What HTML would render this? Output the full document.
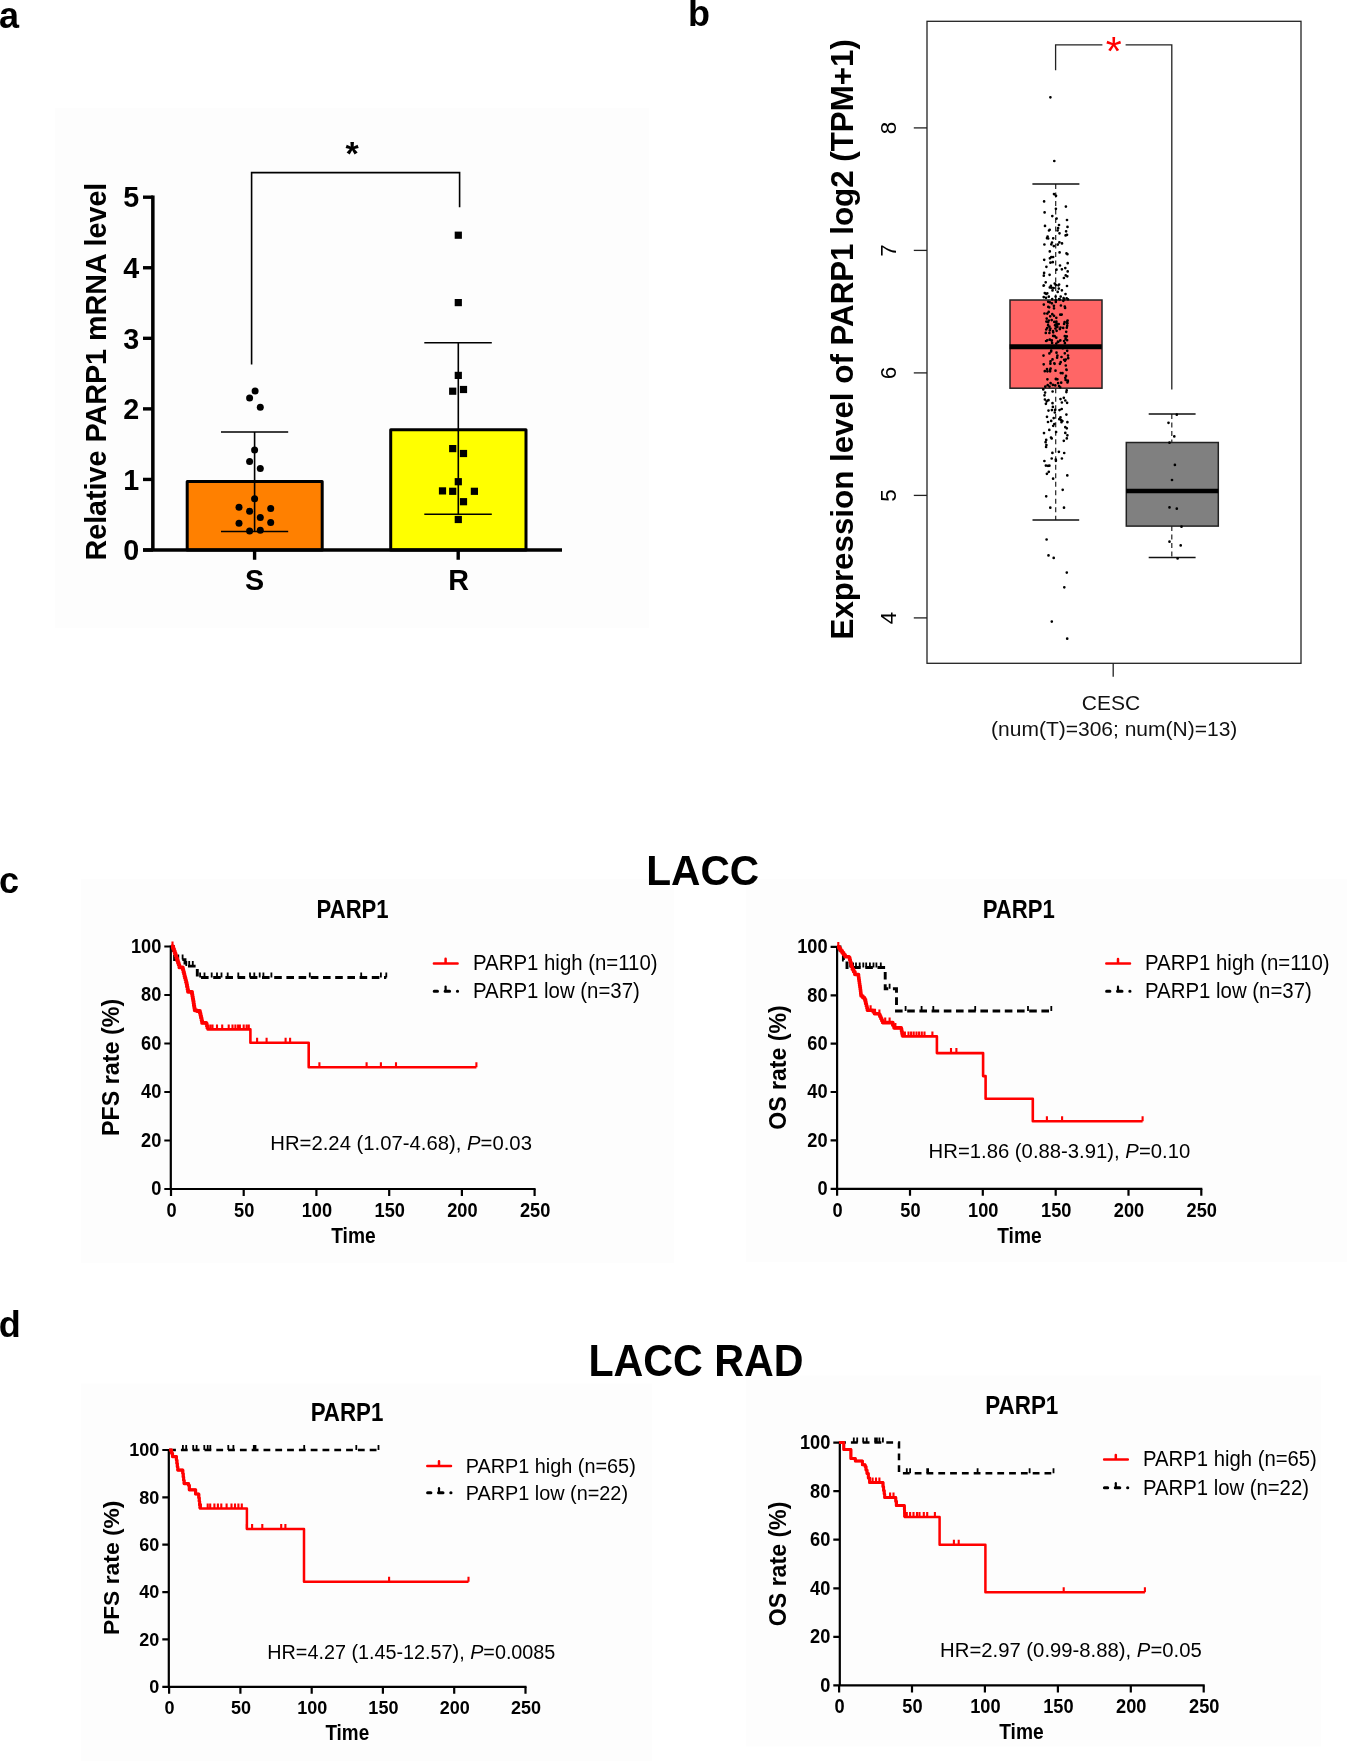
<!DOCTYPE html>
<html><head><meta charset="utf-8"><style>
html,body{margin:0;padding:0;background:#fff;}
body{width:1347px;height:1761px;overflow:hidden;}
svg{display:block;font-family:"Liberation Sans", sans-serif;will-change:transform;}
</style></head><body>
<svg width="1347" height="1761" viewBox="0 0 1347 1761">
<text x="-1" y="27.5" font-size="36" font-weight="bold" text-anchor="start" fill="#000">a</text>
<text x="688" y="26" font-size="36" font-weight="bold" text-anchor="start" fill="#000">b</text>
<text x="-1" y="892.5" font-size="36" font-weight="bold" text-anchor="start" fill="#000">c</text>
<text x="-1.2" y="1336.5" font-size="36" font-weight="bold" text-anchor="start" fill="#000">d</text>
<rect x="55" y="108" width="594" height="520" fill="#fdfdfd"/>
<rect x="187.2" y="481.6" width="135" height="68.4" fill="#FF8000" stroke="#000" stroke-width="3" stroke-linejoin="round"/>
<rect x="390.7" y="429.7" width="135.3" height="120.3" fill="#FFFF00" stroke="#000" stroke-width="3" stroke-linejoin="round"/>
<path d="M152.85 195.4V550M143 550H562" stroke="#000" stroke-width="3.5" fill="none"/>
<path d="M143 550.00H153" stroke="#000" stroke-width="3.4"/>
<text x="139.3" y="560.2" font-size="28.7" font-weight="bold" text-anchor="end" fill="#000">0</text>
<path d="M143 479.44H153" stroke="#000" stroke-width="3.4"/>
<text x="139.3" y="489.6" font-size="28.7" font-weight="bold" text-anchor="end" fill="#000">1</text>
<path d="M143 408.88H153" stroke="#000" stroke-width="3.4"/>
<text x="139.3" y="419.1" font-size="28.7" font-weight="bold" text-anchor="end" fill="#000">2</text>
<path d="M143 338.32H153" stroke="#000" stroke-width="3.4"/>
<text x="139.3" y="348.5" font-size="28.7" font-weight="bold" text-anchor="end" fill="#000">3</text>
<path d="M143 267.76H153" stroke="#000" stroke-width="3.4"/>
<text x="139.3" y="278.0" font-size="28.7" font-weight="bold" text-anchor="end" fill="#000">4</text>
<path d="M143 197.20H153" stroke="#000" stroke-width="3.4"/>
<text x="139.3" y="207.4" font-size="28.7" font-weight="bold" text-anchor="end" fill="#000">5</text>
<path d="M254.6 550V559.8M458.2 550V559.8" stroke="#000" stroke-width="3.4"/>
<text x="254.6" y="590" font-size="28.7" font-weight="bold" text-anchor="middle" fill="#000">S</text>
<text x="458.6" y="590" font-size="28.7" font-weight="bold" text-anchor="middle" fill="#000">R</text>
<text x="106.4" y="371.6" font-size="28.7" font-weight="bold" text-anchor="middle" fill="#000" transform="rotate(-90 106.4 371.6)">Relative PARP1 mRNA level</text>
<path d="M254.6 432V531.5M221 432H288.2M221 531.5H288.2" stroke="#000" stroke-width="1.6" fill="none"/>
<path d="M458.3 342.8V514.3M424.3 342.8H491.8M424.3 514.3H491.8" stroke="#000" stroke-width="1.6" fill="none"/>
<path d="M251.6 364.5V172.6H459.6V207.3" stroke="#000" stroke-width="1.6" fill="none"/>
<text x="352.2" y="164.5" font-size="34" font-weight="bold" text-anchor="middle" fill="#000">*</text>
<circle cx="255.1" cy="390.9" r="3.5" fill="#000"/>
<circle cx="249.6" cy="398" r="3.5" fill="#000"/>
<circle cx="260.3" cy="407.2" r="3.5" fill="#000"/>
<circle cx="254.6" cy="450.1" r="3.5" fill="#000"/>
<circle cx="249.6" cy="461.4" r="3.5" fill="#000"/>
<circle cx="260.3" cy="468.4" r="3.5" fill="#000"/>
<circle cx="254.6" cy="498.8" r="3.5" fill="#000"/>
<circle cx="239" cy="507.3" r="3.5" fill="#000"/>
<circle cx="270.7" cy="508.5" r="3.5" fill="#000"/>
<circle cx="249.6" cy="511.2" r="3.5" fill="#000"/>
<circle cx="260.3" cy="517.4" r="3.5" fill="#000"/>
<circle cx="239" cy="523.3" r="3.5" fill="#000"/>
<circle cx="270.7" cy="522.6" r="3.5" fill="#000"/>
<circle cx="249.6" cy="531" r="3.5" fill="#000"/>
<circle cx="260.3" cy="530.3" r="3.5" fill="#000"/>
<rect x="454.7" y="231.6" width="7.2" height="7.2" fill="#000"/>
<rect x="454.7" y="299.0" width="7.2" height="7.2" fill="#000"/>
<rect x="454.7" y="371.8" width="7.2" height="7.2" fill="#000"/>
<rect x="449.1" y="387.6" width="7.2" height="7.2" fill="#000"/>
<rect x="459.9" y="385.9" width="7.2" height="7.2" fill="#000"/>
<rect x="449.1" y="445.0" width="7.2" height="7.2" fill="#000"/>
<rect x="459.9" y="449.9" width="7.2" height="7.2" fill="#000"/>
<rect x="454.7" y="478.1" width="7.2" height="7.2" fill="#000"/>
<rect x="438.9" y="487.3" width="7.2" height="7.2" fill="#000"/>
<rect x="449.1" y="487.7" width="7.2" height="7.2" fill="#000"/>
<rect x="470.8" y="487.7" width="7.2" height="7.2" fill="#000"/>
<rect x="459.9" y="498.1" width="7.2" height="7.2" fill="#000"/>
<rect x="454.7" y="515.9" width="7.2" height="7.2" fill="#000"/>
<rect x="927" y="21.3" width="374" height="642" fill="none" stroke="#222" stroke-width="1.3"/>
<path d="M913.8 617.9H927" stroke="#222" stroke-width="1.3"/>
<text x="896.4" y="617.9" font-size="22.5" font-weight="normal" text-anchor="middle" fill="#000" transform="rotate(-90 896.4 617.9)">4</text>
<path d="M913.8 495.4H927" stroke="#222" stroke-width="1.3"/>
<text x="896.4" y="495.4" font-size="22.5" font-weight="normal" text-anchor="middle" fill="#000" transform="rotate(-90 896.4 495.4)">5</text>
<path d="M913.8 372.9H927" stroke="#222" stroke-width="1.3"/>
<text x="896.4" y="372.9" font-size="22.5" font-weight="normal" text-anchor="middle" fill="#000" transform="rotate(-90 896.4 372.9)">6</text>
<path d="M913.8 250.4H927" stroke="#222" stroke-width="1.3"/>
<text x="896.4" y="250.4" font-size="22.5" font-weight="normal" text-anchor="middle" fill="#000" transform="rotate(-90 896.4 250.4)">7</text>
<path d="M913.8 127.9H927" stroke="#222" stroke-width="1.3"/>
<text x="896.4" y="127.9" font-size="22.5" font-weight="normal" text-anchor="middle" fill="#000" transform="rotate(-90 896.4 127.9)">8</text>
<path d="M1113.2 663V676.7" stroke="#222" stroke-width="1.3"/>
<text x="1111" y="710.3" font-size="21" font-weight="normal" text-anchor="middle" fill="#111">CESC</text>
<text x="1114.2" y="736" font-size="21" font-weight="normal" text-anchor="middle" fill="#111">(num(T)=306; num(N)=13)</text>
<text x="853.4" y="339.3" font-size="31.3" font-weight="bold" text-anchor="middle" fill="#000" transform="rotate(-90 853.4 339.3)">Expression level of PARP1 log2 (TPM+1)</text>
<path d="M1055.7 183.9V299.6M1055.7 388.2V519.9M1171.8 414V442.3M1171.8 526.1V557.6" stroke="#222" stroke-width="1.2" stroke-dasharray="5 3.5" fill="none"/>
<path d="M1032.4 183.9H1079.4M1032.5 519.9H1079.2M1148.7 414H1195.6M1148.7 557.6H1195.6" stroke="#111" stroke-width="1.5" fill="none"/>
<rect x="1010" y="300" width="92" height="88.2" fill="#FF6666" stroke="#222" stroke-width="1.5"/>
<rect x="1126.3" y="442.5" width="92" height="83.6" fill="#808080" stroke="#222" stroke-width="1.5"/>
<path d="M1009.6 346.8H1101.8" stroke="#000" stroke-width="5"/>
<path d="M1126.1 491H1218.3" stroke="#000" stroke-width="4.5"/>
<path d="M1055.6 70.3V44.9H1102.4M1125.6 44.9H1171.8V389.6" stroke="#222" stroke-width="1.3" fill="none"/>
<text x="1113.8" y="64.5" font-size="41" font-weight="normal" text-anchor="middle" fill="#FF0000">*</text>
<path d="M1051.3 244.3h0M1047.0 238.2h0M1059.5 233.3h0M1045.0 225.9h0M1056.6 218.6h0M1052.3 216.1h0M1044.6 212.4h0M1055.9 208.8h0M1044.1 201.4h0M1054.0 194.1h0M1063.9 278.0h0M1048.8 296.7h0M1053.1 257.0h0M1044.4 461.0h0M1046.1 447.0h0M1063.6 298.2h0M1052.5 403.2h0M1044.8 371.2h0M1053.9 305.8h0M1057.8 244.6h0M1060.7 362.2h0M1057.6 230.5h0M1050.4 262.7h0M1046.2 496.3h0M1055.4 328.5h0M1059.9 363.8h0M1051.0 437.6h0M1058.1 383.2h0M1066.8 438.4h0M1059.8 299.4h0M1068.0 355.5h0M1050.3 507.7h0M1054.7 336.2h0M1046.1 341.0h0M1049.4 326.5h0M1065.0 360.8h0M1065.3 400.5h0M1064.8 306.7h0M1065.3 377.8h0M1047.0 416.8h0M1055.3 325.2h0M1049.8 287.4h0M1057.4 379.3h0M1060.5 417.3h0M1044.5 395.3h0M1062.7 489.8h0M1053.2 425.8h0M1059.1 386.1h0M1047.3 293.3h0M1044.5 313.5h0M1052.3 314.2h0M1065.1 307.9h0M1051.9 303.3h0M1046.3 294.0h0M1055.3 385.4h0M1045.8 332.9h0M1047.2 340.3h0M1067.0 220.0h0M1043.9 285.5h0M1067.7 271.4h0M1052.4 452.9h0M1062.5 373.2h0M1048.8 320.5h0M1067.8 381.7h0M1061.7 409.0h0M1056.1 432.0h0M1050.2 316.3h0M1060.5 327.5h0M1067.1 402.8h0M1048.1 322.2h0M1058.8 288.6h0M1059.5 410.1h0M1045.3 386.7h0M1062.0 243.4h0M1047.7 385.2h0M1067.5 382.4h0M1053.2 238.3h0M1046.4 445.0h0M1065.8 365.5h0M1067.7 263.2h0M1052.0 242.6h0M1067.5 323.3h0M1056.4 322.7h0M1048.5 400.2h0M1057.9 341.7h0M1053.7 288.0h0M1054.7 283.6h0M1065.8 359.5h0M1056.5 269.7h0M1043.7 364.3h0M1063.2 327.9h0M1055.0 325.3h0M1056.2 379.0h0M1062.8 348.2h0M1050.1 371.3h0M1055.9 346.5h0M1054.3 321.9h0M1055.8 459.6h0M1056.5 352.7h0M1066.7 390.4h0M1049.7 229.8h0M1066.8 428.3h0M1054.3 424.0h0M1049.2 307.3h0M1065.6 379.9h0M1061.1 420.1h0M1067.4 254.2h0M1067.0 234.8h0M1064.0 507.7h0M1054.0 315.8h0M1051.2 350.6h0M1043.7 297.1h0M1051.5 340.5h0M1056.0 325.9h0M1067.5 226.9h0M1049.8 339.7h0M1046.4 321.6h0M1066.0 375.9h0M1066.2 331.8h0M1060.7 296.6h0M1053.8 246.1h0M1066.7 298.3h0M1064.6 322.2h0M1064.8 353.3h0M1066.4 369.7h0M1046.4 266.8h0M1047.2 328.0h0M1048.2 301.8h0M1050.4 363.7h0M1047.6 236.6h0M1043.6 285.7h0M1057.0 324.9h0M1045.9 465.6h0M1054.0 308.3h0M1055.9 300.2h0M1067.8 380.7h0M1059.1 284.5h0M1051.9 410.1h0M1061.7 314.6h0M1047.3 313.6h0M1060.0 265.5h0M1049.3 429.9h0M1054.3 363.3h0M1067.2 321.3h0M1067.3 475.4h0M1052.1 342.9h0M1055.8 379.1h0M1055.8 284.9h0M1053.2 332.3h0M1043.8 304.6h0M1056.4 321.6h0M1059.6 252.4h0M1051.4 287.7h0M1046.9 473.8h0M1064.1 341.0h0M1058.9 451.8h0M1056.3 317.8h0M1064.1 359.8h0M1065.5 294.1h0M1060.5 399.1h0M1052.2 299.2h0M1064.1 323.9h0M1060.2 387.3h0M1043.3 389.4h0M1056.6 330.8h0M1044.9 399.5h0M1049.8 330.3h0M1048.3 306.9h0M1052.8 262.2h0M1060.3 340.4h0M1045.1 392.6h0M1049.5 386.6h0M1043.5 355.6h0M1049.9 258.3h0M1050.5 361.4h0M1054.8 412.5h0M1048.2 238.5h0M1066.6 370.0h0M1067.4 435.3h0M1049.9 302.3h0M1057.7 291.9h0M1056.3 343.6h0M1055.9 379.2h0M1060.8 373.1h0M1043.8 275.7h0M1055.5 370.7h0M1051.8 340.4h0M1064.2 299.4h0M1046.2 329.5h0M1052.5 290.4h0M1068.2 358.2h0M1050.1 369.9h0M1045.7 282.3h0M1049.4 465.7h0M1056.0 195.8h0M1065.3 432.9h0M1059.0 225.0h0M1061.2 382.7h0M1061.5 357.0h0M1050.4 328.6h0M1066.4 414.6h0M1050.6 383.2h0M1067.6 320.6h0M1057.1 357.7h0M1047.4 371.3h0M1055.6 296.6h0M1065.9 206.6h0M1048.0 465.8h0M1051.7 320.1h0M1057.4 326.9h0M1061.9 402.5h0M1052.6 391.5h0M1044.8 293.1h0M1055.8 300.2h0M1064.8 336.2h0M1053.2 335.9h0M1067.0 286.0h0M1044.0 433.1h0M1065.6 338.9h0M1053.0 331.0h0M1063.8 440.8h0M1045.9 403.8h0M1056.3 337.7h0M1059.4 242.3h0M1054.6 363.8h0M1049.0 230.5h0M1059.3 419.2h0M1059.1 299.0h0M1046.0 297.8h0M1052.9 406.9h0M1058.2 341.9h0M1067.2 350.8h0M1065.3 268.1h0M1067.2 325.8h0M1050.9 285.9h0M1053.7 418.1h0M1059.9 329.1h0M1051.7 438.4h0M1060.3 314.7h0M1055.8 301.9h0M1067.4 422.2h0M1048.7 311.9h0M1050.6 368.6h0M1048.8 471.8h0M1059.8 329.0h0M1048.5 410.6h0M1046.7 401.3h0M1065.7 275.4h0M1061.5 422.2h0M1047.8 400.5h0M1061.9 458.5h0M1052.5 359.4h0M1047.4 379.3h0M1067.1 340.2h0M1067.3 276.3h0M1063.8 397.8h0M1044.4 244.5h0M1048.0 422.0h0M1065.6 235.4h0M1062.4 421.1h0M1044.1 272.9h0M1061.9 290.3h0M1051.7 458.5h0M1049.8 251.4h0M1051.1 351.4h0M1066.1 231.3h0M1066.8 327.7h0M1067.1 323.3h0M1052.9 384.9h0M1066.4 392.1h0M1063.3 300.8h0M1058.4 285.3h0M1051.2 420.9h0M1048.1 325.2h0M1049.4 353.4h0M1051.3 257.1h0M1065.3 427.2h0M1045.6 442.2h0M1060.9 305.5h0M1058.7 324.0h0M1061.9 269.3h0M1064.2 453.0h0M1057.4 355.7h0M1049.4 333.0h0M1047.0 369.1h0M1053.1 478.7h0M1055.9 460.8h0M1068.0 299.3h0M1055.1 409.9h0M1044.2 259.8h0M1046.2 439.9h0M1066.5 253.4h0M1064.9 343.2h0M1066.8 336.4h0M1058.1 228.2h0M1046.7 318.6h0M1049.6 274.8h0M1050.4 97.3h0M1054.3 161.0h0M1046.6 539.5h0M1048.5 555.4h0M1053.7 557.9h0M1066.8 572.6h0M1064.3 587.3h0M1051.8 621.6h0M1067.2 638.7h0M1176.8 414.7h0M1168.5 422.8h0M1174.3 436.4h0M1169.5 442.7h0M1174.9 464.9h0M1176.0 491.0h0M1169.5 507.4h0M1176.8 508.7h0M1181.5 526.7h0M1169.5 541.7h0M1180.7 545.4h0M1177.6 558.5h0M1172.0 480.0h0" stroke="#000" stroke-width="2.7" stroke-linecap="round" fill="none"/>
<rect x="81" y="879" width="593" height="384" fill="#fdfdfd"/>
<rect x="746" y="879" width="601" height="383" fill="#fdfdfd"/>
<rect x="81" y="1383.5" width="571" height="377.5" fill="#fdfdfd"/>
<rect x="746" y="1375.5" width="575" height="371" fill="#fdfdfd"/>
<text transform="translate(702.7 885.4) scale(1 1.065)" font-size="40.7" font-weight="bold" text-anchor="middle" fill="#000">LACC</text>
<text transform="translate(696 1376.3) scale(1 1.068)" font-size="41.2" font-weight="bold" text-anchor="middle" fill="#000">LACC RAD</text>
<text transform="translate(352.6 917.8) scale(0.975 1.12)" font-size="22.7" font-weight="bold" text-anchor="middle" fill="#000">PARP1</text>
<path d="M170.8 945.5V1189.0H535.6" stroke="#000" stroke-width="2.2" fill="none"/>
<text transform="translate(161.3 1195.3) scale(0.985 1.05)" font-size="18.5" font-weight="bold" text-anchor="end" fill="#000">0</text>
<text transform="translate(161.3 1146.8) scale(0.985 1.05)" font-size="18.5" font-weight="bold" text-anchor="end" fill="#000">20</text>
<text transform="translate(161.3 1098.3) scale(0.985 1.05)" font-size="18.5" font-weight="bold" text-anchor="end" fill="#000">40</text>
<text transform="translate(161.3 1049.8) scale(0.985 1.05)" font-size="18.5" font-weight="bold" text-anchor="end" fill="#000">60</text>
<text transform="translate(161.3 1001.3) scale(0.985 1.05)" font-size="18.5" font-weight="bold" text-anchor="end" fill="#000">80</text>
<text transform="translate(161.3 952.8) scale(0.985 1.05)" font-size="18.5" font-weight="bold" text-anchor="end" fill="#000">100</text>
<text transform="translate(171.5 1217) scale(0.985 1.05)" font-size="18.5" font-weight="bold" text-anchor="middle" fill="#000">0</text>
<text transform="translate(244.2 1217) scale(0.985 1.05)" font-size="18.5" font-weight="bold" text-anchor="middle" fill="#000">50</text>
<text transform="translate(316.9 1217) scale(0.985 1.05)" font-size="18.5" font-weight="bold" text-anchor="middle" fill="#000">100</text>
<text transform="translate(389.7 1217) scale(0.985 1.05)" font-size="18.5" font-weight="bold" text-anchor="middle" fill="#000">150</text>
<text transform="translate(462.4 1217) scale(0.985 1.05)" font-size="18.5" font-weight="bold" text-anchor="middle" fill="#000">200</text>
<text transform="translate(535.1 1217) scale(0.985 1.05)" font-size="18.5" font-weight="bold" text-anchor="middle" fill="#000">250</text>
<path d="M164.3 1189.0H170.8M164.3 1140.5H170.8M164.3 1092.0H170.8M164.3 1043.5H170.8M164.3 995.0H170.8M164.3 946.5H170.8M171.0 1189.0V1196.0M243.7 1189.0V1196.0M316.4 1189.0V1196.0M389.2 1189.0V1196.0M461.9 1189.0V1196.0M534.6 1189.0V1196.0" stroke="#000" stroke-width="2.2" fill="none"/>
<text transform="translate(353.4 1242.9) scale(1 1.13)" font-size="19.2" font-weight="bold" text-anchor="middle" fill="#000">Time</text>
<text x="119.2" y="1067.4" font-size="23.3" font-weight="bold" text-anchor="middle" fill="#000" transform="rotate(-90 119.2 1067.4)">PFS rate (%)</text>
<text transform="translate(270.3 1149.5) scale(1 1.035)" font-size="20.3" fill="#000">HR=2.24 (1.07-4.68), <tspan font-style="italic">P</tspan>=0.03</text>
<path d="M433.9 963.4H457.6M445.6 963.4v-4.6" stroke="#FF0000" stroke-width="2.5" stroke-linecap="round" fill="none"/>
<path d="M434.2 991.2H437.5M445.1 991.2H449.6M457.4 991.2H457.6" stroke="#000" stroke-width="3" stroke-linecap="round" fill="none"/>
<path d="M445.6 991.2v-4.6" stroke="#000" stroke-width="2.2" stroke-linecap="round" fill="none"/>
<text transform="translate(473.0 970.0) scale(1 1.05)" font-size="20.4" font-weight="normal" text-anchor="start" fill="#000">PARP1 high (n=110)</text>
<text transform="translate(473.0 998.2) scale(1 1.05)" font-size="20.4" font-weight="normal" text-anchor="start" fill="#000">PARP1 low (n=37)</text>
<path d="M171.0 946.5L173.2 946.5L173.2 953.0L174.6 953.0L174.6 959.6L185.0 959.6L185.0 966.1L197.3 966.1L197.3 977.5L386.3 977.5" stroke="#000" stroke-width="2.9" stroke-dasharray="7.6 4.6" fill="none"/>
<path d="M178.3 959.6v-5M182.6 959.6v-5M186.3 966.1v-5M189.2 966.1v-5M192.8 966.1v-5M200.1 977.5v-5M204.5 977.5v-5M211.7 977.5v-5M217.0 977.5v-5M221.5 977.5v-5M227.7 977.5v-5M238.3 977.5v-5M250.0 977.5v-5M254.3 977.5v-5M259.7 977.5v-5M263.4 977.5v-5M271.4 977.5v-5M309.8 977.5v-5M361.2 977.5v-5M380.9 977.5v-5M386.3 977.5v-5" stroke="#000" stroke-width="1.8" fill="none"/>
<path d="M171.0 946.5L172.5 946.5L173.2 946.5L173.2 948.8L174.0 948.8L174.0 951.1L174.8 951.1L174.8 953.5L175.6 953.5L175.6 955.8L176.3 955.8L176.3 958.1L177.1 958.1L177.1 960.4L177.9 960.4L177.9 962.7L178.7 962.7L178.7 965.0L179.4 965.0L179.4 967.4L182.8 967.4L182.8 969.5L183.3 969.5L183.3 971.7L183.9 971.7L183.9 973.8L184.4 973.8L184.4 975.9L184.9 975.9L184.9 978.0L185.5 978.0L185.5 980.1L186.0 980.1L186.0 982.2L186.6 982.2L186.6 984.3L187.0 984.3L187.0 986.8L187.5 986.8L187.5 989.3L188.0 989.3L188.0 991.8L191.7 991.8L192.0 991.8L192.0 994.2L192.4 994.2L192.4 996.5L192.8 996.5L192.8 998.8L193.2 998.8L193.2 1001.1L193.6 1001.1L193.6 1003.4L193.9 1003.4L193.9 1005.7L194.3 1005.7L194.3 1008.0L194.7 1008.0L194.7 1010.3L196.9 1010.3L196.9 1011.0L199.9 1011.0L199.9 1013.2L200.5 1013.2L200.5 1015.6L201.0 1015.6L201.0 1018.0L201.6 1018.0L201.6 1020.5L202.1 1020.5L202.1 1022.9L206.2 1022.9L206.2 1023.6L206.7 1023.6L206.7 1025.6L207.2 1025.6L207.2 1027.5L207.7 1027.5L207.7 1029.4L250.4 1029.4L250.4 1042.8L308.7 1042.8L308.7 1067.3L476.4 1067.3" stroke="#FF0000" stroke-width="2.6" fill="none" stroke-linejoin="round"/>
<path d="M171.0 946.5L172.5 946.5L173.2 946.5L173.2 948.8L174.0 948.8L174.0 951.1L174.8 951.1L174.8 953.5L175.6 953.5L175.6 955.8L176.3 955.8L176.3 958.1L177.1 958.1L177.1 960.4L177.9 960.4L177.9 962.7L178.7 962.7L178.7 965.0L179.4 965.0L179.4 967.4L182.8 967.4L182.8 969.5L183.3 969.5L183.3 971.7L183.9 971.7L183.9 973.8L184.4 973.8L184.4 975.9L184.9 975.9L184.9 978.0L185.5 978.0L185.5 980.1L186.0 980.1L186.0 982.2L186.6 982.2L186.6 984.3L187.0 984.3L187.0 986.8L187.5 986.8L187.5 989.3L188.0 989.3L188.0 991.8L191.7 991.8L192.0 991.8L192.0 994.2L192.4 994.2L192.4 996.5L192.8 996.5L192.8 998.8L193.2 998.8L193.2 1001.1L193.6 1001.1L193.6 1003.4L193.9 1003.4L193.9 1005.7L194.3 1005.7L194.3 1008.0L194.7 1008.0L194.7 1010.3L196.9 1010.3L196.9 1011.0L199.9 1011.0L199.9 1013.2L200.5 1013.2L200.5 1015.6L201.0 1015.6L201.0 1018.0L201.6 1018.0L201.6 1020.5L202.1 1020.5L202.1 1022.9L206.2 1022.9L206.2 1023.6L206.7 1023.6L206.7 1025.6L207.2 1025.6L207.2 1027.5L207.7 1027.5L207.7 1029.4" stroke="#FF0000" stroke-width="3.8" fill="none" stroke-linejoin="round"/>
<path d="M172.5 946.5v-5M210.3 1029.4v-5M212.5 1029.4v-5M217.0 1029.4v-5M222.2 1029.4v-5M228.7 1029.4v-5M232.5 1029.4v-5M235.4 1029.4v-5M238.1 1029.4v-5M239.9 1029.4v-5M243.7 1029.4v-5M246.6 1029.4v-5M248.8 1029.4v-5M257.1 1042.8v-5M266.6 1042.8v-5M285.6 1042.8v-5M290.1 1042.8v-5M319.4 1067.3v-5M366.6 1067.3v-5M380.9 1067.3v-5M396.0 1067.3v-5M476.4 1067.3v-5" stroke="#FF0000" stroke-width="2.1" fill="none"/>
<text transform="translate(1018.8 917.8) scale(0.975 1.12)" font-size="22.7" font-weight="bold" text-anchor="middle" fill="#000">PARP1</text>
<path d="M837.1 945.9V1188.8H1202.3" stroke="#000" stroke-width="2.2" fill="none"/>
<text transform="translate(827.6 1195.1) scale(0.985 1.05)" font-size="18.5" font-weight="bold" text-anchor="end" fill="#000">0</text>
<text transform="translate(827.6 1146.7) scale(0.985 1.05)" font-size="18.5" font-weight="bold" text-anchor="end" fill="#000">20</text>
<text transform="translate(827.6 1098.3) scale(0.985 1.05)" font-size="18.5" font-weight="bold" text-anchor="end" fill="#000">40</text>
<text transform="translate(827.6 1050.0) scale(0.985 1.05)" font-size="18.5" font-weight="bold" text-anchor="end" fill="#000">60</text>
<text transform="translate(827.6 1001.6) scale(0.985 1.05)" font-size="18.5" font-weight="bold" text-anchor="end" fill="#000">80</text>
<text transform="translate(827.6 953.2) scale(0.985 1.05)" font-size="18.5" font-weight="bold" text-anchor="end" fill="#000">100</text>
<text transform="translate(837.6 1217) scale(0.985 1.05)" font-size="18.5" font-weight="bold" text-anchor="middle" fill="#000">0</text>
<text transform="translate(910.5 1217) scale(0.985 1.05)" font-size="18.5" font-weight="bold" text-anchor="middle" fill="#000">50</text>
<text transform="translate(983.3 1217) scale(0.985 1.05)" font-size="18.5" font-weight="bold" text-anchor="middle" fill="#000">100</text>
<text transform="translate(1056.2 1217) scale(0.985 1.05)" font-size="18.5" font-weight="bold" text-anchor="middle" fill="#000">150</text>
<text transform="translate(1129.0 1217) scale(0.985 1.05)" font-size="18.5" font-weight="bold" text-anchor="middle" fill="#000">200</text>
<text transform="translate(1201.8 1217) scale(0.985 1.05)" font-size="18.5" font-weight="bold" text-anchor="middle" fill="#000">250</text>
<path d="M830.6 1188.8H837.1M830.6 1140.4H837.1M830.6 1092.0H837.1M830.6 1043.7H837.1M830.6 995.3H837.1M830.6 946.9H837.1M837.1 1188.8V1195.8M910.0 1188.8V1195.8M982.8 1188.8V1195.8M1055.7 1188.8V1195.8M1128.5 1188.8V1195.8M1201.3 1188.8V1195.8" stroke="#000" stroke-width="2.2" fill="none"/>
<text transform="translate(1019.4 1242.9) scale(1 1.13)" font-size="19.2" font-weight="bold" text-anchor="middle" fill="#000">Time</text>
<text x="786" y="1067.5" font-size="23.1" font-weight="bold" text-anchor="middle" fill="#000" transform="rotate(-90 786 1067.5)">OS rate (%)</text>
<text transform="translate(928.6 1157.6000000000001) scale(1 1.035)" font-size="20.3" fill="#000">HR=1.86 (0.88-3.91), <tspan font-style="italic">P</tspan>=0.10</text>
<path d="M1106.3 963.5H1130.0M1118.0 963.5v-4.6" stroke="#FF0000" stroke-width="2.5" stroke-linecap="round" fill="none"/>
<path d="M1106.6 991.3H1109.9M1117.5 991.3H1122.0M1129.8 991.3H1130.0" stroke="#000" stroke-width="3" stroke-linecap="round" fill="none"/>
<path d="M1118.0 991.3v-4.6" stroke="#000" stroke-width="2.2" stroke-linecap="round" fill="none"/>
<text transform="translate(1145.0 970.1) scale(1 1.05)" font-size="20.4" font-weight="normal" text-anchor="start" fill="#000">PARP1 high (n=110)</text>
<text transform="translate(1145.0 998.3) scale(1 1.05)" font-size="20.4" font-weight="normal" text-anchor="start" fill="#000">PARP1 low (n=37)</text>
<path d="M837.1 946.9L840.0 946.9L840.0 953.4L843.4 953.4L843.4 960.0L847.0 960.0L847.0 967.5L885.2 967.5L885.2 988.7L896.5 988.7L896.5 1011.0L1051.3 1011.0" stroke="#000" stroke-width="2.9" stroke-dasharray="7.6 4.6" fill="none"/>
<path d="M850.2 967.5v-5M853.1 967.5v-5M856.0 967.5v-5M859.7 967.5v-5M863.3 967.5v-5M866.2 967.5v-5M869.9 967.5v-5M873.5 967.5v-5M876.4 967.5v-5M880.8 967.5v-5M889.6 988.7v-5M905.6 1011.0v-5M921.6 1011.0v-5M933.3 1011.0v-5M975.2 1011.0v-5M1028.0 1011.0v-5M1051.3 1011.0v-5" stroke="#000" stroke-width="1.8" fill="none"/>
<path d="M837.1 946.9L837.8 946.9L839.3 946.9L839.3 948.9L840.7 948.9L840.7 950.9L842.2 950.9L842.2 952.9L843.7 952.9L843.7 954.8L845.1 954.8L845.1 956.8L849.0 956.8L849.0 957.5L849.7 957.5L849.7 959.9L850.3 959.9L850.3 962.2L851.0 962.2L851.0 964.5L851.6 964.5L851.6 966.8L852.3 966.8L852.3 969.2L853.6 969.2L853.6 971.8L854.9 971.8L854.9 974.5L858.5 974.5L858.5 977.1L858.8 977.1L858.8 979.2L859.1 979.2L859.1 981.3L859.4 981.3L859.4 983.4L859.7 983.4L859.7 985.5L860.0 985.5L860.0 987.6L860.3 987.6L860.3 989.7L860.6 989.7L860.6 991.8L860.8 991.8L860.8 993.9L861.1 993.9L861.1 996.0L862.9 996.0L862.9 997.7L864.6 997.7L864.6 999.4L865.2 999.4L865.2 1001.6L865.7 1001.6L865.7 1003.7L866.3 1003.7L866.3 1005.9L866.9 1005.9L866.9 1008.1L867.4 1008.1L867.4 1010.3L871.8 1010.3L873.2 1010.3L873.2 1012.0L874.5 1012.0L874.5 1013.7L879.1 1013.7L879.1 1014.6L879.9 1014.6L879.9 1016.6L880.8 1016.6L880.8 1018.6L881.7 1018.6L881.7 1020.6L882.6 1020.6L882.6 1022.6L891.4 1022.6L892.8 1022.6L892.8 1025.3L894.1 1025.3L894.1 1027.9L901.2 1027.9L901.2 1028.9L901.6 1028.9L901.6 1031.4L902.1 1031.4L902.1 1033.9L902.5 1033.9L902.5 1036.4L936.9 1036.4L936.9 1053.1L983.1 1053.1L983.1 1076.1L985.6 1076.1L985.6 1098.8L1032.8 1098.8L1032.8 1121.3L1142.6 1121.3" stroke="#FF0000" stroke-width="2.6" fill="none" stroke-linejoin="round"/>
<path d="M837.1 946.9L837.8 946.9L839.3 946.9L839.3 948.9L840.7 948.9L840.7 950.9L842.2 950.9L842.2 952.9L843.7 952.9L843.7 954.8L845.1 954.8L845.1 956.8L849.0 956.8L849.0 957.5L849.7 957.5L849.7 959.9L850.3 959.9L850.3 962.2L851.0 962.2L851.0 964.5L851.6 964.5L851.6 966.8L852.3 966.8L852.3 969.2L853.6 969.2L853.6 971.8L854.9 971.8L854.9 974.5L858.5 974.5L858.5 977.1L858.8 977.1L858.8 979.2L859.1 979.2L859.1 981.3L859.4 981.3L859.4 983.4L859.7 983.4L859.7 985.5L860.0 985.5L860.0 987.6L860.3 987.6L860.3 989.7L860.6 989.7L860.6 991.8L860.8 991.8L860.8 993.9L861.1 993.9L861.1 996.0L862.9 996.0L862.9 997.7L864.6 997.7L864.6 999.4L865.2 999.4L865.2 1001.6L865.7 1001.6L865.7 1003.7L866.3 1003.7L866.3 1005.9L866.9 1005.9L866.9 1008.1L867.4 1008.1L867.4 1010.3L871.8 1010.3L873.2 1010.3L873.2 1012.0L874.5 1012.0L874.5 1013.7L879.1 1013.7L879.1 1014.6L879.9 1014.6L879.9 1016.6L880.8 1016.6L880.8 1018.6L881.7 1018.6L881.7 1020.6L882.6 1020.6L882.6 1022.6L891.4 1022.6L892.8 1022.6L892.8 1025.3L894.1 1025.3L894.1 1027.9L901.2 1027.9L901.2 1028.9L901.6 1028.9L901.6 1031.4L902.1 1031.4L902.1 1033.9L902.5 1033.9L902.5 1036.4" stroke="#FF0000" stroke-width="3.6" fill="none" stroke-linejoin="round"/>
<path d="M838.3 946.9v-5M866.2 1003.7v-5M870.6 1010.3v-5M875.0 1013.7v-5M879.4 1014.6v-5M885.2 1022.6v-5M889.6 1022.6v-5M895.4 1027.9v-5M904.9 1036.4v-5M908.5 1036.4v-5M911.1 1036.4v-5M913.7 1036.4v-5M916.5 1036.4v-5M919.1 1036.4v-5M921.8 1036.4v-5M924.5 1036.4v-5M932.4 1036.4v-5M951.0 1053.1v-5M956.4 1053.1v-5M1046.9 1121.3v-5M1062.1 1121.3v-5M1142.6 1121.3v-5" stroke="#FF0000" stroke-width="2.1" fill="none"/>
<text transform="translate(347 1421.3) scale(0.975 1.12)" font-size="22.9" font-weight="bold" text-anchor="middle" fill="#000">PARP1</text>
<path d="M168.8 1449.0V1686.8H526.5" stroke="#000" stroke-width="2.2" fill="none"/>
<text transform="translate(159.3 1693.1) scale(0.985 1.05)" font-size="18.3" font-weight="bold" text-anchor="end" fill="#000">0</text>
<text transform="translate(159.3 1645.7) scale(0.985 1.05)" font-size="18.3" font-weight="bold" text-anchor="end" fill="#000">20</text>
<text transform="translate(159.3 1598.4) scale(0.985 1.05)" font-size="18.3" font-weight="bold" text-anchor="end" fill="#000">40</text>
<text transform="translate(159.3 1551.0) scale(0.985 1.05)" font-size="18.3" font-weight="bold" text-anchor="end" fill="#000">60</text>
<text transform="translate(159.3 1503.7) scale(0.985 1.05)" font-size="18.3" font-weight="bold" text-anchor="end" fill="#000">80</text>
<text transform="translate(159.3 1456.3) scale(0.985 1.05)" font-size="18.3" font-weight="bold" text-anchor="end" fill="#000">100</text>
<text transform="translate(169.6 1714) scale(0.985 1.05)" font-size="18.3" font-weight="bold" text-anchor="middle" fill="#000">0</text>
<text transform="translate(240.9 1714) scale(0.985 1.05)" font-size="18.3" font-weight="bold" text-anchor="middle" fill="#000">50</text>
<text transform="translate(312.2 1714) scale(0.985 1.05)" font-size="18.3" font-weight="bold" text-anchor="middle" fill="#000">100</text>
<text transform="translate(383.4 1714) scale(0.985 1.05)" font-size="18.3" font-weight="bold" text-anchor="middle" fill="#000">150</text>
<text transform="translate(454.7 1714) scale(0.985 1.05)" font-size="18.3" font-weight="bold" text-anchor="middle" fill="#000">200</text>
<text transform="translate(526.0 1714) scale(0.985 1.05)" font-size="18.3" font-weight="bold" text-anchor="middle" fill="#000">250</text>
<path d="M162.3 1686.8H168.8M162.3 1639.4H168.8M162.3 1592.1H168.8M162.3 1544.7H168.8M162.3 1497.4H168.8M162.3 1450.0H168.8M169.1 1686.8V1693.8M240.4 1686.8V1693.8M311.7 1686.8V1693.8M382.9 1686.8V1693.8M454.2 1686.8V1693.8M525.5 1686.8V1693.8" stroke="#000" stroke-width="2.2" fill="none"/>
<text transform="translate(347.3 1739.7) scale(1 1.13)" font-size="18.9" font-weight="bold" text-anchor="middle" fill="#000">Time</text>
<text x="118.8" y="1567.8" font-size="22.85" font-weight="bold" text-anchor="middle" fill="#000" transform="rotate(-90 118.8 1567.8)">PFS rate (%)</text>
<text transform="translate(267.3 1659.0) scale(1 1.035)" font-size="19.8" fill="#000">HR=4.27 (1.45-12.57), <tspan font-style="italic">P</tspan>=0.0085</text>
<path d="M427.3 1465.9H451.0M439.0 1465.9v-4.6" stroke="#FF0000" stroke-width="2.5" stroke-linecap="round" fill="none"/>
<path d="M427.6 1492.8H430.9M438.5 1492.8H443.0M450.8 1492.8H451.0" stroke="#000" stroke-width="3" stroke-linecap="round" fill="none"/>
<path d="M439.0 1492.8v-4.6" stroke="#000" stroke-width="2.2" stroke-linecap="round" fill="none"/>
<text transform="translate(465.7 1472.5) scale(1 1.05)" font-size="19.85" font-weight="normal" text-anchor="start" fill="#000">PARP1 high (n=65)</text>
<text transform="translate(465.7 1499.8) scale(1 1.05)" font-size="19.85" font-weight="normal" text-anchor="start" fill="#000">PARP1 low (n=22)</text>
<path d="M169.1 1450.0L379.2 1450.0" stroke="#000" stroke-width="2.5" stroke-dasharray="6.8 5.0" fill="none"/>
<path d="M182.9 1450.0v-5M186.2 1450.0v-5M193.2 1450.0v-5M196.6 1450.0v-5M204.3 1450.0v-5M207.7 1450.0v-5M210.3 1450.0v-5M228.3 1450.0v-5M233.4 1450.0v-5M253.8 1450.0v-5M255.5 1450.0v-5M304.2 1450.0v-5M356.3 1450.0v-5M378.5 1450.0v-5" stroke="#000" stroke-width="1.8" fill="none"/>
<path d="M169.1 1450.0L170.7 1450.0L171.6 1450.0L171.6 1453.3L172.5 1453.3L172.5 1456.6L175.9 1456.6L176.4 1456.6L176.4 1460.0L176.9 1460.0L176.9 1463.4L177.3 1463.4L177.3 1466.8L177.8 1466.8L177.8 1470.1L182.4 1470.1L182.8 1470.1L182.8 1473.5L183.2 1473.5L183.2 1476.9L183.6 1476.9L183.6 1480.3L184.1 1480.3L184.1 1483.6L188.5 1483.6L188.5 1485.3L189.3 1485.3L189.3 1489.8L194.8 1489.8L195.6 1489.8L195.6 1494.0L198.3 1494.0L198.8 1494.0L198.8 1497.7L199.2 1497.7L199.2 1501.3L199.6 1501.3L199.6 1504.9L200.0 1504.9L200.0 1508.5L246.9 1508.5L246.9 1529.1L304.0 1529.1L304.0 1581.7L468.5 1581.7" stroke="#FF0000" stroke-width="2.5" fill="none" stroke-linejoin="round"/>
<path d="M169.1 1450.0L170.7 1450.0L171.6 1450.0L171.6 1453.3L172.5 1453.3L172.5 1456.6L175.9 1456.6L176.4 1456.6L176.4 1460.0L176.9 1460.0L176.9 1463.4L177.3 1463.4L177.3 1466.8L177.8 1466.8L177.8 1470.1L182.4 1470.1L182.8 1470.1L182.8 1473.5L183.2 1473.5L183.2 1476.9L183.6 1476.9L183.6 1480.3L184.1 1480.3L184.1 1483.6L188.5 1483.6L188.5 1485.3L189.3 1485.3L189.3 1489.8L194.8 1489.8L195.6 1489.8L195.6 1494.0L198.3 1494.0L198.8 1494.0L198.8 1497.7L199.2 1497.7L199.2 1501.3L199.6 1501.3L199.6 1504.9L200.0 1504.9L200.0 1508.5" stroke="#FF0000" stroke-width="3.2" fill="none" stroke-linejoin="round"/>
<path d="M200.9 1508.5v-5M207.7 1508.5v-5M210.2 1508.5v-5M214.4 1508.5v-5M217.9 1508.5v-5M221.3 1508.5v-5M226.6 1508.5v-5M231.5 1508.5v-5M235.0 1508.5v-5M238.4 1508.5v-5M241.8 1508.5v-5M246.9 1529.1v-5M252.1 1529.1v-5M262.3 1529.1v-5M281.2 1529.1v-5M285.4 1529.1v-5M389.1 1581.7v-5M468.5 1581.7v-5" stroke="#FF0000" stroke-width="2.1" fill="none"/>
<text transform="translate(1021.8 1413.9) scale(0.975 1.12)" font-size="23" font-weight="bold" text-anchor="middle" fill="#000">PARP1</text>
<path d="M839.8 1441.6V1685.4H1204.7" stroke="#000" stroke-width="2.2" fill="none"/>
<text transform="translate(830.3 1691.7) scale(0.985 1.05)" font-size="18.5" font-weight="bold" text-anchor="end" fill="#000">0</text>
<text transform="translate(830.3 1643.1) scale(0.985 1.05)" font-size="18.5" font-weight="bold" text-anchor="end" fill="#000">20</text>
<text transform="translate(830.3 1594.6) scale(0.985 1.05)" font-size="18.5" font-weight="bold" text-anchor="end" fill="#000">40</text>
<text transform="translate(830.3 1546.0) scale(0.985 1.05)" font-size="18.5" font-weight="bold" text-anchor="end" fill="#000">60</text>
<text transform="translate(830.3 1497.5) scale(0.985 1.05)" font-size="18.5" font-weight="bold" text-anchor="end" fill="#000">80</text>
<text transform="translate(830.3 1448.9) scale(0.985 1.05)" font-size="18.5" font-weight="bold" text-anchor="end" fill="#000">100</text>
<text transform="translate(839.6 1713.3) scale(0.985 1.05)" font-size="18.5" font-weight="bold" text-anchor="middle" fill="#000">0</text>
<text transform="translate(912.5 1713.3) scale(0.985 1.05)" font-size="18.5" font-weight="bold" text-anchor="middle" fill="#000">50</text>
<text transform="translate(985.4 1713.3) scale(0.985 1.05)" font-size="18.5" font-weight="bold" text-anchor="middle" fill="#000">100</text>
<text transform="translate(1058.4 1713.3) scale(0.985 1.05)" font-size="18.5" font-weight="bold" text-anchor="middle" fill="#000">150</text>
<text transform="translate(1131.3 1713.3) scale(0.985 1.05)" font-size="18.5" font-weight="bold" text-anchor="middle" fill="#000">200</text>
<text transform="translate(1204.2 1713.3) scale(0.985 1.05)" font-size="18.5" font-weight="bold" text-anchor="middle" fill="#000">250</text>
<path d="M833.3 1685.4H839.8M833.3 1636.8H839.8M833.3 1588.3H839.8M833.3 1539.7H839.8M833.3 1491.2H839.8M833.3 1442.6H839.8M839.1 1685.4V1692.4M912.0 1685.4V1692.4M984.9 1685.4V1692.4M1057.9 1685.4V1692.4M1130.8 1685.4V1692.4M1203.7 1685.4V1692.4" stroke="#000" stroke-width="2.2" fill="none"/>
<text transform="translate(1021.4 1739.0) scale(1 1.13)" font-size="19.2" font-weight="bold" text-anchor="middle" fill="#000">Time</text>
<text x="786" y="1563.9" font-size="23.1" font-weight="bold" text-anchor="middle" fill="#000" transform="rotate(-90 786 1563.9)">OS rate (%)</text>
<text transform="translate(940.1 1657.2) scale(1 1.035)" font-size="20.3" fill="#000">HR=2.97 (0.99-8.88), <tspan font-style="italic">P</tspan>=0.05</text>
<path d="M1104.1 1459.6H1127.8M1115.8 1459.6v-4.6" stroke="#FF0000" stroke-width="2.5" stroke-linecap="round" fill="none"/>
<path d="M1104.4 1487.8H1107.7M1115.3 1487.8H1119.8M1127.6 1487.8H1127.8" stroke="#000" stroke-width="3" stroke-linecap="round" fill="none"/>
<path d="M1115.8 1487.8v-4.6" stroke="#000" stroke-width="2.2" stroke-linecap="round" fill="none"/>
<text transform="translate(1143.0 1466.2) scale(1 1.05)" font-size="20.3" font-weight="normal" text-anchor="start" fill="#000">PARP1 high (n=65)</text>
<text transform="translate(1143.0 1494.8) scale(1 1.05)" font-size="20.3" font-weight="normal" text-anchor="start" fill="#000">PARP1 low (n=22)</text>
<path d="M839.1 1442.6L899.0 1442.6L899.0 1473.2L1054.8 1473.2" stroke="#000" stroke-width="2.5" stroke-dasharray="6.8 5.0" fill="none"/>
<path d="M853.8 1442.6v-5M857.2 1442.6v-5M863.2 1442.6v-5M866.7 1442.6v-5M875.1 1442.6v-5M876.9 1442.6v-5M879.4 1442.6v-5M882.9 1442.6v-5M906.8 1473.2v-5M910.1 1473.2v-5M927.2 1473.2v-5M928.1 1473.2v-5M977.6 1473.2v-5M1029.6 1473.2v-5M1053.5 1473.2v-5" stroke="#000" stroke-width="1.8" fill="none"/>
<path d="M839.1 1442.6L843.8 1442.6L843.8 1449.4L850.9 1449.4L850.9 1458.4L855.3 1458.4L855.3 1461.1L861.6 1461.1L862.4 1461.1L862.4 1464.7L865.1 1464.7L865.1 1466.4L866.0 1466.4L866.0 1469.9L867.0 1469.9L867.0 1473.4L868.3 1473.4L868.3 1477.9L869.6 1477.9L869.6 1482.4L880.2 1482.4L883.0 1482.4L883.0 1486.8L883.6 1486.8L883.6 1490.4L884.2 1490.4L884.2 1493.9L884.7 1493.9L884.7 1497.5L895.4 1497.5L895.8 1497.5L895.8 1501.5L896.3 1501.5L896.3 1505.5L904.3 1505.5L904.3 1506.5L904.4 1506.5L904.4 1510.0L904.6 1510.0L904.6 1513.6L904.7 1513.6L904.7 1517.1L939.6 1517.1L939.6 1544.8L985.4 1544.8L985.4 1592.2L1144.9 1592.2" stroke="#FF0000" stroke-width="2.5" fill="none" stroke-linejoin="round"/>
<path d="M839.1 1442.6L843.8 1442.6L843.8 1449.4L850.9 1449.4L850.9 1458.4L855.3 1458.4L855.3 1461.1L861.6 1461.1L862.4 1461.1L862.4 1464.7L865.1 1464.7L865.1 1466.4L866.0 1466.4L866.0 1469.9L867.0 1469.9L867.0 1473.4L868.3 1473.4L868.3 1477.9L869.6 1477.9L869.6 1482.4L880.2 1482.4L883.0 1482.4L883.0 1486.8L883.6 1486.8L883.6 1490.4L884.2 1490.4L884.2 1493.9L884.7 1493.9L884.7 1497.5L895.4 1497.5L895.8 1497.5L895.8 1501.5L896.3 1501.5L896.3 1505.5L904.3 1505.5L904.3 1506.5L904.4 1506.5L904.4 1510.0L904.6 1510.0L904.6 1513.6L904.7 1513.6L904.7 1517.1" stroke="#FF0000" stroke-width="3.0" fill="none" stroke-linejoin="round"/>
<path d="M872.6 1482.4v-5M876.0 1482.4v-5M879.4 1482.4v-5M890.1 1497.5v-5M893.5 1497.5v-5M896.9 1505.5v-5M906.8 1517.1v-5M910.1 1517.1v-5M913.5 1517.1v-5M917.0 1517.1v-5M919.5 1517.1v-5M923.8 1517.1v-5M927.2 1517.1v-5M934.9 1517.1v-5M953.9 1544.8v-5M958.7 1544.8v-5M1063.7 1592.2v-5M1144.9 1592.2v-5" stroke="#FF0000" stroke-width="2.1" fill="none"/>
</svg>
</body></html>
